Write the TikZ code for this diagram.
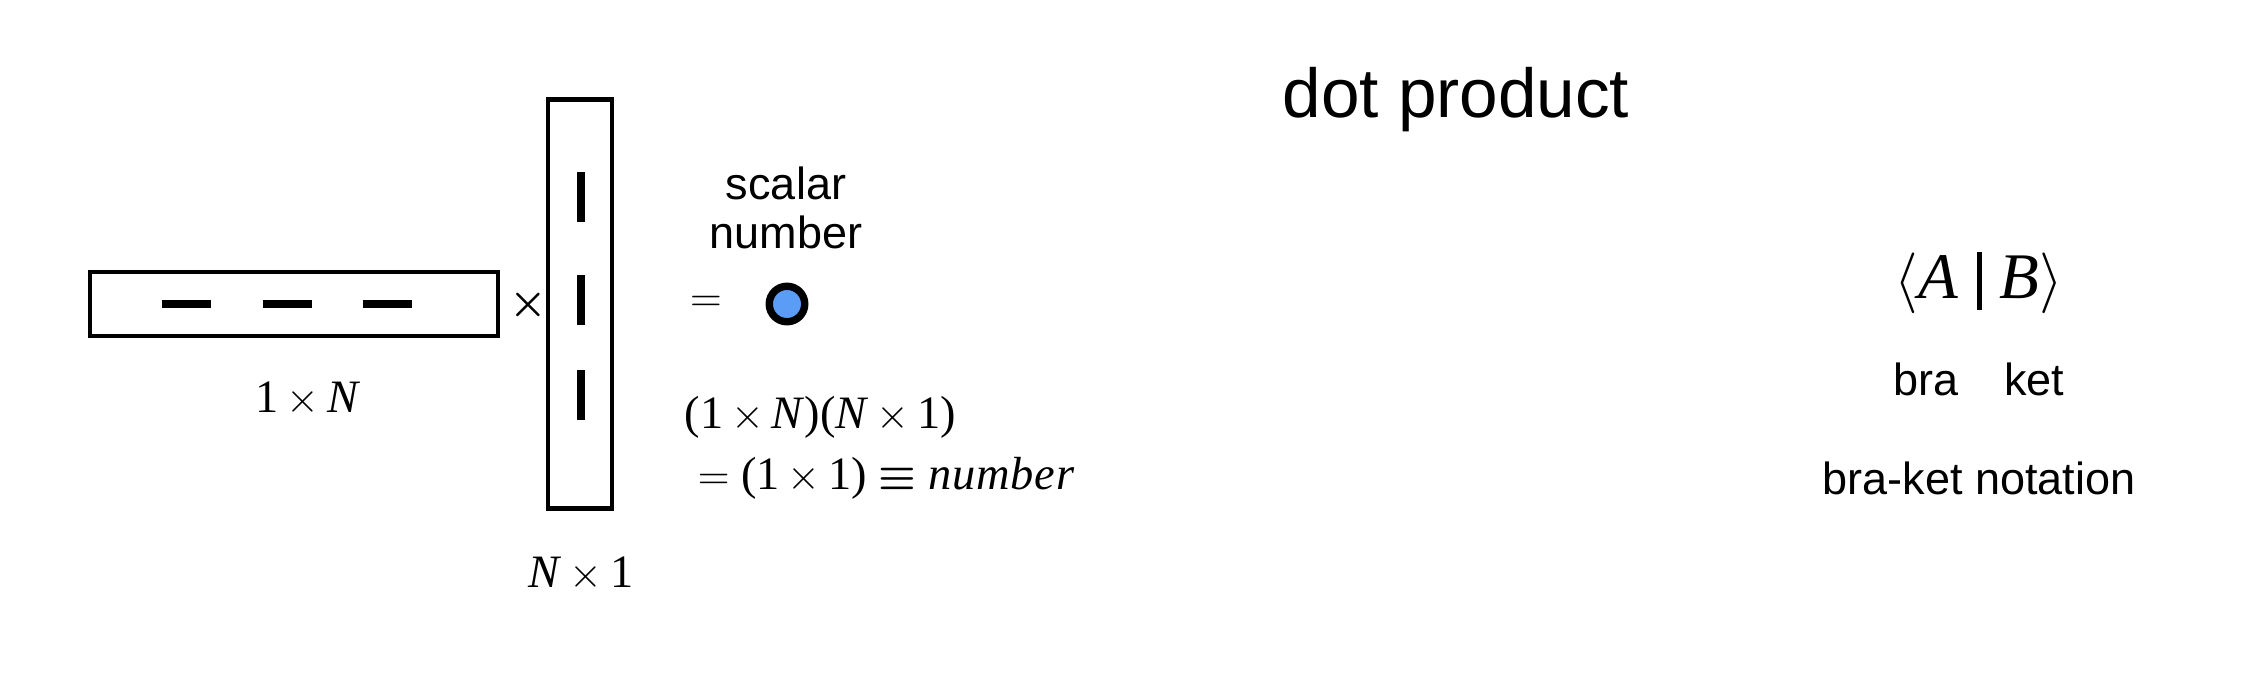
\documentclass[tikz,border=0pt]{standalone}
\usepackage{fontspec}
\setsansfont{Liberation Sans}
\newfontfamily\serifmath{Liberation Serif}
\usetikzlibrary{positioning}
\definecolor{dotblue}{HTML}{5B9CF6}
\newcommand{\tms}{\ensuremath{\times}}

\begin{document}
\begin{tikzpicture}[
    x=0.01cm, y=-0.01cm,
    font=\sffamily\fontsize{12.8}{13.8}\selectfont,
    vecbox/.style={
        rectangle,
        draw=black,
        line width=1.3pt,
        inner sep=0pt
    },
    entry/.style={line width=2pt},
    scalardot/.style={
        circle,
        draw=black,
        line width=2.1pt,
        fill=dotblue,
        inner sep=0pt,
        minimum size=0.355cm
    },
    dim/.style={font=\serifmath\fontsize{13.2}{15}\selectfont}
]
\useasboundingbox (0,0) rectangle (2249,681);

% row vector times column vector
\node[vecbox, minimum width=4.08cm, minimum height=0.64cm] (rowvec) at (294,304) {};
\node[vecbox, minimum width=0.64cm, minimum height=4.09cm] (colvec) at (580,304) {};
\foreach \cx in {186,287,387}
    \draw[entry] (\cx-24.5,304) -- (\cx+24.5,304);
\foreach \cy in {197,300,395}
    \draw[entry] (581,\cy-25) -- (581,\cy+25);

\node[dim] (rowdim) at (308,399) {1\,\tms\,\textit{N}};
\node[dim] (coldim) at (581,574) {\textit{N}\,\tms\,1};
\node[font=\fontsize{11.5}{13}\selectfont] (times) at (528,305) {{\boldmath$\times$}};
\node (equals) at (706,304) {$=$};

% result
\node[scalardot] (dot) at (787,304) {};
\node[align=center] (scalar) at (786,208) {scalar\\number};
\node[dim, anchor=west, inner sep=0pt] (prod) at (684,417) {(1\,\tms\,\textit{N})(\textit{N}\,\tms\,1)};
\node[dim, anchor=west, inner sep=0pt] (result) at (697,478) {$=$ (1\,\tms\,1) {\boldmath$\equiv$} {\itshape\addfontfeatures{LetterSpace=2}number}};

\node[font=\sffamily\fontsize{19.7}{22}\selectfont] (title) at (1456,100) {dot product};

% bra-ket
\node[font=\serifmath\fontsize{18.5}{20}\selectfont] (braket) at (1979,283) {$\langle$\textit{A}\;\rule[-0.18em]{0.08em}{0.89em}\;\textit{B}$\rangle$};
\node (brakets) at (1979,379) {bra\quad ket};
\node (notation) at (1979,478) {bra-ket notation};

\end{tikzpicture}
\end{document}
